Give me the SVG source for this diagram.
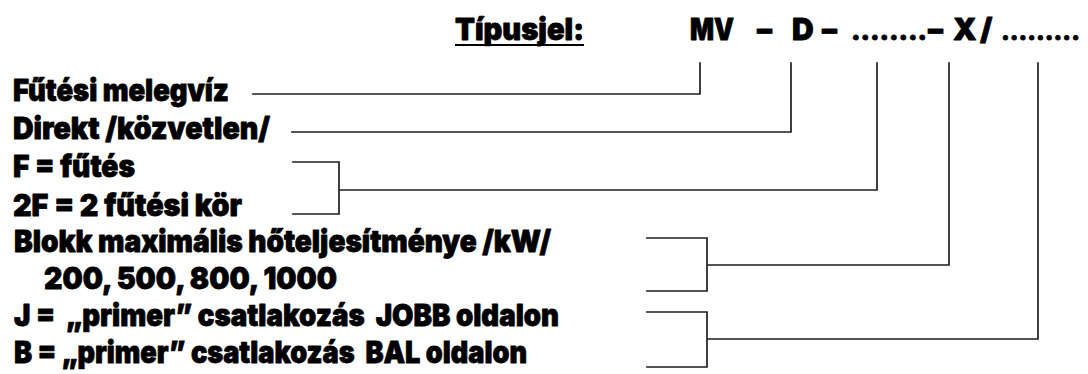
<svg xmlns="http://www.w3.org/2000/svg" width="1088" height="374" viewBox="0 0 1088 374">
<style>
  .t{font-family:"Inter","Liberation Sans","Arial",sans-serif;font-weight:900;font-size:30px;fill:#000;stroke:#000;stroke-width:0.8px;stroke-linejoin:round;white-space:pre}
  .c{fill:none;stroke:#1e1e1e;stroke-width:1.7;stroke-linecap:square}
</style>
<rect width="1088" height="374" fill="#fff"/>
<g id="title">
  <text class="t" x="455" y="40" textLength="129" lengthAdjust="spacingAndGlyphs">Típusjel:</text>
  <line x1="455" y1="45" x2="584" y2="45" stroke="#000" stroke-width="2"/>
</g>
<g id="code">
  <text class="t" y="40"><tspan x="690" textLength="44" lengthAdjust="spacingAndGlyphs">MV</tspan><tspan x="757">–</tspan><tspan x="792">D</tspan><tspan x="822">–</tspan><tspan x="851" font-size="25.5">........</tspan><tspan x="928">–</tspan><tspan x="953">X</tspan><tspan x="980">/</tspan><tspan x="1001" font-size="23.5">.........</tspan></text>
</g>
<g id="n-futesi-melegviz"><text class="t" x="13" y="101" textLength="216" lengthAdjust="spacingAndGlyphs">Fűtési melegvíz</text></g>
<g id="n-direkt"><text class="t" x="13" y="139" textLength="257" lengthAdjust="spacingAndGlyphs">Direkt /közvetlen/</text></g>
<g id="n-f"><text class="t" x="13" y="177" textLength="122" lengthAdjust="spacingAndGlyphs">F = fűtés</text></g>
<g id="n-2f"><text class="t" x="13" y="216" textLength="229" lengthAdjust="spacingAndGlyphs">2F = 2 fűtési kör</text></g>
<g id="n-blokk"><text class="t" x="14" y="252" textLength="537" lengthAdjust="spacingAndGlyphs">Blokk maximális hőteljesítménye /kW/</text></g>
<g id="n-kw-values"><text class="t" x="44" y="289" textLength="293" lengthAdjust="spacingAndGlyphs">200, 500, 800, 1000</text></g>
<g id="n-j"><text class="t" x="14" y="326" textLength="545" lengthAdjust="spacingAndGlyphs">J =  „primer” csatlakozás  JOBB oldalon</text></g>
<g id="n-b"><text class="t" x="14" y="363" textLength="513" lengthAdjust="spacingAndGlyphs">B = „primer” csatlakozás  BAL oldalon</text></g>
<g id="connectors">
  <path class="c" d="M253,94 H700 V63"/>
  <path class="c" d="M292,132 H791 V63"/>
  <path class="c" d="M293,162 H339 V214 H293 M339,190 H877 V63"/>
  <path class="c" d="M647,238 H707 V291 H647 M707,265 H949 V63"/>
  <path class="c" d="M647,312 H707 V367 H647 M707,339 H1038 V63"/>
</g>
</svg>
